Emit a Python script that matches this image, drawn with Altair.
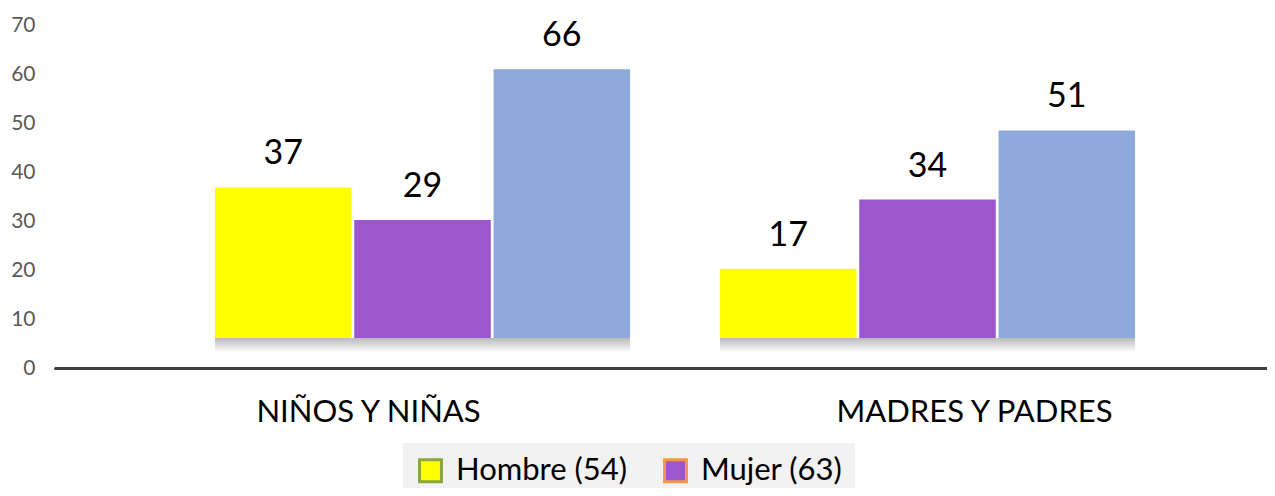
import altair as alt
import pandas as pd

FONT = "Lato"

categories = ["NIÑOS Y NIÑAS", "MADRES Y PADRES"]
series = ["Hombre (54)", "Mujer (63)", "Total"]
hombre = [37, 17]
mujer = [29, 34]
total = [66, 51]
y_ticks = [0, 10, 20, 30, 40, 50, 60, 70]
fill_colors = ["#FFFF00", "#9B57CD", "#8EA9DB"]
stroke_colors = ["#8AA63C", "#F7964A", "#6F8FC8"]

rows = []
for i, c in enumerate(categories):
    for s, vals in zip(series, [hombre, mujer, total]):
        rows.append({"cat": c, "serie": s, "val": vals[i]})
df = pd.DataFrame(rows)
df_cat = pd.DataFrame({"cat": categories})

# axis layer (visible axes, invisible marks)
axis_layer = alt.Chart(df).mark_point(opacity=0).encode(
    x=alt.X("cat:N", sort=categories,
            scale=alt.Scale(paddingInner=0, paddingOuter=0),
            axis=alt.Axis(title=None, labelAngle=0, labelFontSize=31, labelColor="#000000",
                          labelFont=FONT, ticks=False, domainColor="#404040", domainWidth=3,
                          domainCap="round", labelPadding=29, labelLimit=0, labelOffset=10)),
    y=alt.Y("val:Q", scale=alt.Scale(domain=[0, 70], nice=False),
            axis=alt.Axis(title=None, values=y_ticks, labelFontSize=21, labelColor="#595959",
                          labelFont=FONT, domain=False, ticks=False, grid=False, labelPadding=20)),
)

xb = alt.X("cat:N", sort=categories,
           scale=alt.Scale(paddingInner=0.178, paddingOuter=0.289, align=0.548), axis=None)
yscale = alt.Scale(domain=[-7.37, 76.9], nice=False, zero=False)

legend = alt.Legend(title=None, orient="none", legendX=348, legendY=418, direction="horizontal",
                    fillColor="#F2F2F2", padding=12, symbolType="square", symbolSize=480,
                    symbolStrokeWidth=3, labelFontSize=31, labelFont=FONT, labelColor="#000000",
                    columnPadding=30, labelOffset=10, labelLimit=0, values=series[:2])

shadow = alt.Chart(df_cat).mark_bar(
    fill=alt.Gradient(gradient="linear", x1=0, x2=0, y1=0, y2=1,
                      stops=[alt.GradientStop(color="#A8A8A8", offset=0),
                             alt.GradientStop(color="#FFFFFF", offset=1)]),
    opacity=0.8,
).encode(
    x=xb,
    y=alt.YDatum(0, scale=yscale, axis=None),
    y2=alt.Y2Datum(-3.5),
)

bars = alt.Chart(df).mark_bar(strokeWidth=0).encode(
    x=xb,
    xOffset=alt.XOffset("serie:N", sort=series, scale=alt.Scale(paddingInner=0.02)),
    y=alt.Y("val:Q", scale=yscale, axis=None),
    y2=alt.Y2Datum(0),
    color=alt.Color("serie:N", sort=series, scale=alt.Scale(domain=series, range=fill_colors), legend=legend),
    stroke=alt.Stroke("serie:N", sort=series, scale=alt.Scale(domain=series, range=stroke_colors), legend=legend),
)

labels = alt.Chart(df).mark_text(fontSize=34, font=FONT, baseline="bottom", dy=-16, color="#000000").encode(
    x=xb,
    xOffset=alt.XOffset("serie:N", sort=series, scale=alt.Scale(paddingInner=0.02)),
    y=alt.Y("val:Q", scale=yscale, axis=None),
    text=alt.Text("val:Q"),
)

data_layer = alt.layer(shadow, bars, labels)

chart = alt.layer(axis_layer, data_layer).resolve_scale(
    x="independent", y="independent"
).properties(
    width=1212, height=343,
    padding={"left": 47, "top": 17, "right": 0, "bottom": 120},
    autosize=alt.AutoSizeParams(type="none"),
).configure_view(stroke=None)

chart.save("out.html", embed_options={"renderer": "svg", "actions": False})
